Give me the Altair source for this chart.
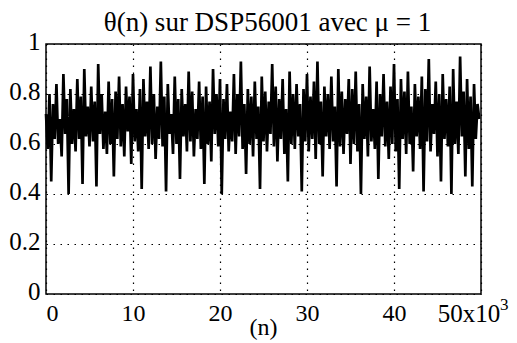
import altair as alt
import pandas as pd

# theta(n) samples, one every 200 samples of n
theta = [
    0.72, 0.58, 0.80, 0.45, 0.76, 0.62, 0.84, 0.60, 0.70, 0.55, 0.88, 0.64, 0.78, 0.40, 0.82, 0.60, 0.74, 0.57, 0.86, 0.62, 0.79, 0.44, 0.90, 0.63, 0.75,
    0.59, 0.83, 0.61, 0.77, 0.43, 0.92, 0.64, 0.80, 0.58, 0.73, 0.56, 0.85, 0.60, 0.78, 0.47, 0.81, 0.62, 0.87, 0.59, 0.76, 0.55, 0.83, 0.65, 0.79, 0.52,
    0.88, 0.61, 0.74, 0.57, 0.82, 0.42, 0.86, 0.63, 0.77, 0.58, 0.91, 0.60, 0.80, 0.54, 0.75, 0.62, 0.93, 0.59, 0.79, 0.41, 0.84, 0.64, 0.72, 0.56, 0.87,
    0.60, 0.78, 0.46, 0.82, 0.63, 0.76, 0.57, 0.89, 0.61, 0.81, 0.55, 0.74, 0.62, 0.85, 0.58, 0.79, 0.44, 0.83, 0.60, 0.77, 0.53, 0.90, 0.64, 0.80, 0.59,
    0.86, 0.40, 0.78, 0.62, 0.84, 0.57, 0.73, 0.61, 0.88, 0.56, 0.80, 0.63, 0.93, 0.58, 0.76, 0.48, 0.82, 0.60, 0.79, 0.55, 0.85, 0.62, 0.75, 0.42, 0.87,
    0.61, 0.81, 0.57, 0.77, 0.64, 0.92, 0.59, 0.83, 0.53, 0.78, 0.62, 0.86, 0.56, 0.74, 0.45, 0.89, 0.60, 0.80, 0.58, 0.84, 0.63, 0.76, 0.41, 0.82, 0.61,
    0.88, 0.57, 0.79, 0.62, 0.85, 0.54, 0.93, 0.60, 0.77, 0.47, 0.83, 0.63, 0.80, 0.58, 0.87, 0.61, 0.75, 0.43, 0.90, 0.59, 0.81, 0.56, 0.78, 0.64, 0.86,
    0.52, 0.82, 0.60, 0.89, 0.57, 0.76, 0.40, 0.84, 0.62, 0.79, 0.55, 0.91, 0.61, 0.74, 0.58, 0.85, 0.46, 0.80, 0.63, 0.88, 0.59, 0.77, 0.54, 0.83, 0.60,
    0.92, 0.57, 0.78, 0.42, 0.86, 0.62, 0.81, 0.56, 0.89, 0.60, 0.75, 0.49, 0.84, 0.63, 0.79, 0.58, 0.87, 0.41, 0.82, 0.61, 0.94, 0.57, 0.76, 0.64, 0.85,
    0.55, 0.80, 0.45, 0.88, 0.62, 0.78, 0.59, 0.83, 0.40, 0.90, 0.60, 0.77, 0.56, 0.95, 0.63, 0.81, 0.47, 0.86, 0.58, 0.79, 0.43, 0.84, 0.62, 0.76, 0.70,
]
step = 200
n_values = [i * step for i in range(len(theta))]

x_ticks = [0, 10000, 20000, 30000, 40000, 50000]
y_ticks = [0, 0.2, 0.4, 0.6, 0.8, 1]
last_label = "50x10"
exponent = "3"
title_text = "θ(n) sur DSP56001 avec μ = 1"
x_title = "(n)"

FONT = "Liberation Serif"
W, H = 435, 250

df = pd.DataFrame({"n": n_values, "theta": theta})

x_scale = alt.Scale(domain=[0, 50000], nice=False, zero=False)
y_scale = alt.Scale(domain=[0, 1], nice=False)

line = alt.Chart(df).mark_line(color="black", strokeWidth=2.7).encode(
    x=alt.X(
        "n:Q",
        scale=x_scale,
        title=None,
        axis=alt.Axis(
            values=x_ticks,
            labelExpr="datum.value >= 50000 ? '' : format(datum.value / 1000, 'd')",
            grid=True,
            gridDash=[1.5, 5.5],
            gridColor="black",
            gridWidth=1.2,
            domain=False,
            ticks=False,
            labelPadding=7,
            labelFontSize=24,
            labelFont=FONT,
            labelColor="black",
        ),
    ),
    y=alt.Y(
        "theta:Q",
        scale=y_scale,
        title=None,
        axis=alt.Axis(
            values=y_ticks,
            labelExpr="datum.value == 0 || datum.value == 1 ? format(datum.value, 'd') : format(datum.value, '.1f')",
            grid=True,
            gridDash=[1.5, 5.5],
            gridColor="black",
            gridWidth=1.2,
            domain=False,
            ticks=False,
            labelPadding=6,
            labelOffset=-3,
            labelFontSize=25,
            labelFont=FONT,
            labelColor="black",
        ),
    ),
)

lab_df = pd.DataFrame({
    "n": [50000], "mid": [25000],
    "txt": [last_label], "exp": [exponent],
    "title": [title_text], "xt": [x_title],
})
last = alt.Chart(lab_df).mark_text(
    font=FONT, fontSize=25, color="black", baseline="top", align="center", dx=-12
).encode(
    x=alt.X("n:Q", scale=x_scale),
    y=alt.value(H + 8),
    text="txt:N",
)
sup = alt.Chart(lab_df).mark_text(
    font=FONT, fontSize=17, color="black", baseline="top", align="left", dx=19
).encode(
    x=alt.X("n:Q", scale=x_scale),
    y=alt.value(H + 3),
    text="exp:N",
)
ttl = alt.Chart(lab_df).mark_text(
    font=FONT, fontSize=27, color="black", baseline="alphabetic", align="center", dx=4
).encode(
    x=alt.X("mid:Q", scale=x_scale),
    y=alt.value(-13),
    text="title:N",
)
xlab = alt.Chart(lab_df).mark_text(
    font=FONT, fontSize=24, color="black", baseline="alphabetic", align="center"
).encode(
    x=alt.X("mid:Q", scale=x_scale),
    y=alt.value(H + 41),
    text="xt:N",
)

chart = (
    alt.layer(line, last, sup, ttl, xlab)
    .properties(
        width=W,
        height=H,
        autosize=alt.AutoSizeParams(type="none"),
        padding={"left": 38, "top": 36, "right": 28, "bottom": 48},
    )
    .configure_view(stroke="black", strokeWidth=1.5)
)

chart.save("out.html", embed_options={"renderer": "svg", "actions": False})
